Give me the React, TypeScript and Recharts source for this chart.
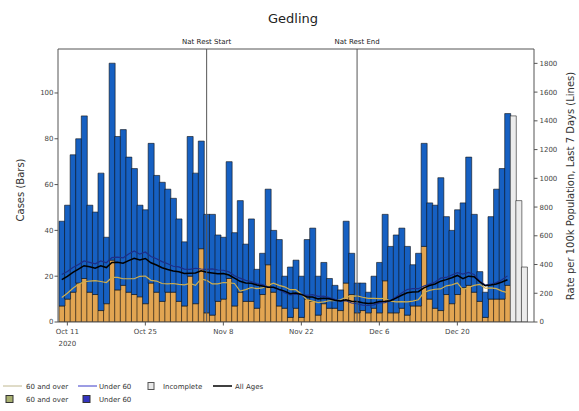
import { ComposedChart, Bar, Line, XAxis, YAxis, ReferenceLine } from 'recharts'

// one entry per day, Oct 10 2020 .. Dec 29 2020 (complete days)
const over60Cases = [
  7, 10, 13, 17, 19, 13, 12, 5, 8, 27, 14, 16, 13, 12, 11, 8, 17, 13, 9, 13, 13,
  9, 7, 20, 8, 32, 4, 3, 9, 10, 19, 7, 13, 9, 9, 6, 12, 25, 13, 7, 6, 2, 6, 2, 10,
  9, 3, 8, 6, 6, 5, 17, 12, 4, 5, 4, 6, 4, 18, 4, 4, 6, 3, 7, 7, 33, 10, 6, 5, 12,
  8, 12, 15, 16, 13, 9, 2, 10, 10, 10, 16,
]
const under60Cases = [
  37, 41, 60, 63, 71, 38, 36, 60, 29, 86, 67, 68, 59, 55, 40, 41, 61, 51, 52, 45,
  41, 36, 28, 61, 57, 47, 43, 44, 29, 27, 51, 32, 40, 25, 36, 17, 18, 33, 27, 29,
  14, 22, 21, 18, 26, 32, 17, 18, 13, 10, 9, 27, 18, 13, 12, 9, 14, 22, 29, 29, 34,
  35, 30, 18, 23, 45, 42, 45, 58, 34, 32, 37, 37, 56, 34, 13, 11, 36, 48, 57, 75,
]
// Dec 30, Dec 31, Jan 1
const incompleteCases = [90, 53, 24]

const rateOver60 = [
  170, 200, 235, 262, 280, 285, 288, 282, 275, 310, 310, 301, 301, 301, 318, 320,
  290, 285, 268, 265, 268, 262, 258, 268, 255, 300, 290, 265, 265, 275, 272, 268,
  215, 225, 240, 232, 237, 255, 270, 255, 245, 225, 225, 195, 155, 145, 135, 140,
  148, 148, 155, 172, 180, 182, 172, 165, 165, 162, 165, 145, 140, 142, 140, 145,
  155, 205, 220, 228, 230, 252, 258, 272, 225, 240, 255, 262, 235, 238, 232, 215, 205,
]
const rateUnder60 = [
  330, 352, 380, 400, 425, 415, 405, 425, 412, 448, 452, 446, 474, 494, 472, 487,
  456, 440, 420, 405, 388, 384, 368, 366, 374, 369, 366, 370, 362, 360, 349, 322,
  305, 290, 282, 267, 260, 245, 240, 224, 204, 188, 193, 192, 185, 190, 178, 180,
  170, 157, 146, 148, 132, 127, 118, 115, 119, 133, 135, 150, 174, 201, 226, 232,
  232, 251, 264, 278, 305, 310, 327, 343, 334, 345, 331, 285, 257, 263, 274, 294, 321,
]
const rateAll = [
  295, 318, 345, 368, 392, 385, 374, 391, 379, 414, 415, 409, 427, 444, 432, 442,
  412, 397, 378, 366, 355, 350, 338, 340, 341, 356, 347, 341, 335, 337, 327, 305,
  283, 272, 270, 257, 251, 241, 242, 227, 215, 197, 201, 192, 174, 174, 161, 166,
  162, 152, 147, 154, 144, 142, 134, 129, 132, 143, 145, 148, 166, 186, 203, 208,
  211, 238, 254, 265, 284, 295, 308, 324, 302, 319, 315, 280, 252, 257, 265, 278, 294,
]

const tickLabels: Record<string, string[]> = {
  'Oct 11': ['Oct 11', '2020'],
  'Oct 25': ['Oct 25'],
  'Nov 8': ['Nov 8'],
  'Nov 22': ['Nov 22'],
  'Dec 6': ['Dec 6'],
  'Dec 20': ['Dec 20'],
}
const leftTicks = [0, 20, 40, 60, 80, 100]
const rightTicks = [0, 200, 400, 600, 800, 1000, 1200, 1400, 1600, 1800]

const months = ['Jan', 'Feb', 'Mar', 'Apr', 'May', 'Jun', 'Jul', 'Aug', 'Sep', 'Oct', 'Nov', 'Dec']
const nDays = over60Cases.length + incompleteCases.length
const dates: string[] = []
for (let i = 0; i < nDays; i++) {
  const d = new Date(Date.UTC(2020, 9, 10 + i))
  dates.push(`${months[d.getUTCMonth()]} ${d.getUTCDate()}`)
}

const data = dates.map((date, i) => {
  const done = i < over60Cases.length
  return {
    date,
    over60: done ? over60Cases[i] : null,
    under60: done ? under60Cases[i] : null,
    incomplete: done ? null : incompleteCases[i - over60Cases.length],
    rateOver60: done ? rateOver60[i] : null,
    rateUnder60: done ? rateUnder60[i] : null,
    rateAll: done ? rateAll[i] : null,
  }
})

const font = 'DejaVu Sans, sans-serif'

function DateTick(props: any) {
  const { x, y, payload } = props
  const lines = tickLabels[payload.value]
  if (!lines) return null
  return (
    <g>
      <line x1={x} x2={x} y1={y} y2={y + 3.5} stroke="#555" />
      {lines.map((l, k) => (
        <text key={k} x={x} y={y + 12 + k * 12} textAnchor="middle" fontSize={7} fill="#444" fontFamily={font}>
          {l}
        </text>
      ))}
    </g>
  )
}

export default function App() {
  return (
    <div style={{ position: 'absolute', left: 0, top: 0, width: 579, height: 411, background: '#fff' }}>
      <ComposedChart
        width={579}
        height={411}
        data={data}
        margin={{ top: 49, right: 0, bottom: 59, left: 0 }}
        barCategoryGap={0}
        barGap={0}
        style={{ fontFamily: font }}
      >
        <XAxis
          dataKey="date"
          interval={0}
          tick={<DateTick />}
          tickLine={false}
          tickSize={0}
          tickMargin={0}
          height={30}
          padding={{ left: 1, right: 7 }}
          stroke="#555"
          xAxisId="x"
        />
        <YAxis
          yAxisId="left"
          width={58}
          domain={[0, 119.2]}
          ticks={leftTicks}
          tickSize={3.5}
          tickMargin={1}
          tick={{ fontSize: 7, fill: '#444' }}
          stroke="#555"
          allowDataOverflow
        />
        <YAxis
          yAxisId="right"
          orientation="right"
          width={45}
          domain={[0, 1900]}
          ticks={rightTicks}
          tickSize={3.5}
          tickMargin={2}
          tick={{ fontSize: 7, fill: '#444' }}
          stroke="#555"
          allowDataOverflow
        />
        <Bar xAxisId="x" yAxisId="left" dataKey="over60" stackId="a" fill="#e2a552" stroke="#111" strokeWidth={0.6} isAnimationActive={false} />
        <Bar xAxisId="x" yAxisId="left" dataKey="under60" stackId="a" fill="#1660c2" stroke="#111" strokeWidth={0.6} isAnimationActive={false} />
        <Bar xAxisId="x" yAxisId="left" dataKey="incomplete" stackId="a" fill="#ececec" stroke="#222" strokeWidth={0.6} isAnimationActive={false} />
        <Line xAxisId="x" yAxisId="right" dataKey="rateOver60" stroke="#cfae4e" strokeWidth={1.2} dot={false} isAnimationActive={false} />
        <Line xAxisId="x" yAxisId="right" dataKey="rateUnder60" stroke="#1c2f8a" strokeWidth={1.2} dot={false} isAnimationActive={false} />
        <Line xAxisId="x" yAxisId="right" dataKey="rateAll" stroke="#000" strokeWidth={1.5} dot={false} isAnimationActive={false} />
        <ReferenceLine
          xAxisId="x"
          yAxisId="left"
          x="Nov 5"
          stroke="#555"
          strokeWidth={1}
          label={{ value: 'Nat Rest Start', position: 'top', fontSize: 7, fill: '#222' }}
        />
        <ReferenceLine
          xAxisId="x"
          yAxisId="left"
          x="Dec 2"
          stroke="#555"
          strokeWidth={1}
          label={{ value: 'Nat Rest End', position: 'top', fontSize: 7, fill: '#222' }}
        />
      </ComposedChart>
      <svg width={579} height={411} style={{ position: 'absolute', left: 0, top: 0, pointerEvents: 'none' }} fontFamily={font}>
        <line x1={58} x2={534} y1={49} y2={49} stroke="#555" />
        <text x={293} y={23} textAnchor="middle" fontSize={13} fill="#222">Gedling</text>
        <text x={24} y={190} textAnchor="middle" fontSize={10} fill="#333" transform="rotate(-90 24 190)">Cases (Bars)</text>
        <text x={574} y={186} textAnchor="middle" fontSize={10} fill="#333" transform="rotate(-90 574 186)">
          Rate per 100k Population, Last 7 Days (Lines)
        </text>
        <g fontSize={7} fill="#333">
          <line x1={3} x2={22} y1={386} y2={386} stroke="#c0b890" />
          <text x={26} y={388.5}>60 and over</text>
          <line x1={78} x2={97} y1={386} y2={386} stroke="#3a3ac8" />
          <text x={99} y={388.5}>Under 60</text>
          <rect x={148} y={382.5} width={6} height={7} fill="#e8e8e8" stroke="#555" />
          <text x={163} y={388.5}>Incomplete</text>
          <line x1={213} x2={232} y1={386} y2={386} stroke="#000" strokeWidth={1.5} />
          <text x={235} y={388.5}>All Ages</text>
          <rect x={6} y={395.5} width={7} height={7} fill="#a8b070" stroke="#333" />
          <text x={26} y={401.5}>60 and over</text>
          <rect x={83} y={395.5} width={7} height={7} fill="#3434c0" stroke="#333" />
          <text x={99} y={401.5}>Under 60</text>
        </g>
      </svg>
    </div>
  )
}
